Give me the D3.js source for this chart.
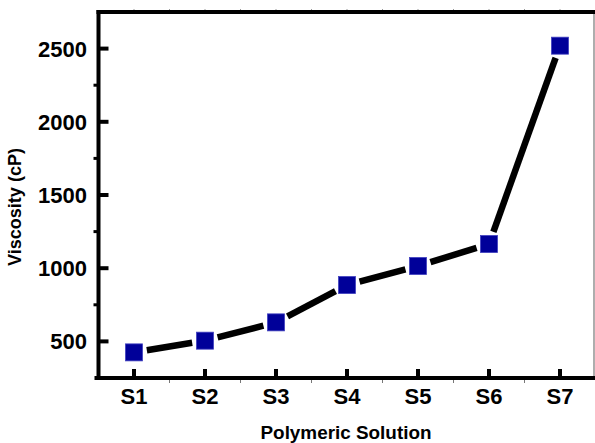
<!DOCTYPE html>
<html>
<head>
<meta charset="utf-8">
<script src="https://cdn.jsdelivr.net/npm/d3@7"></script>
<style>
  body { margin: 0; background: #fff; }
  text { font-family: "Liberation Sans", Arial, sans-serif; font-weight: bold; fill: #000; }
</style>
</head>
<body>
<svg id="chart_svg" width="595" height="443"></svg>
<script>
// data
const solutions = ["S1", "S2", "S3", "S4", "S5", "S6", "S7"];
const viscosity = [425, 505, 630, 885, 1015, 1165, 2520];
const yTicks = [500, 1000, 1500, 2000, 2500];
const yMinorTicks = [750, 1250, 1750, 2250];

const plot_left = 98.5, plot_right = 595.5, plot_top = 12, plot_bottom = 378;

const svg = d3.select('#chart_svg');

const xScale = d3.scaleBand()
    .domain(solutions)
    .range([plot_left, plot_right])
    .padding(0);

const yScale = d3.scaleLinear()
    .domain([250, 2750])
    .range([plot_bottom, plot_top]);

const xc = d => xScale(d) + xScale.bandwidth() / 2;

// faint minor ticks (between categories) on bottom and top
const minorX = solutions.slice(0, -1).map(s => xScale(s) + xScale.bandwidth());
svg.selectAll(".xminor").data(minorX).enter().append("line")
    .attr("x1", d => d).attr("x2", d => d)
    .attr("y1", plot_bottom).attr("y2", plot_bottom + 5)
    .style("stroke", "#777").style("stroke-width", 1);
svg.selectAll(".topminor").data(minorX.concat(solutions.map(xc))).enter().append("line")
    .attr("x1", d => d).attr("x2", d => d)
    .attr("y1", plot_top).attr("y2", plot_top - 3)
    .style("stroke", "#999").style("stroke-width", 1);

// frame (right edge is cut by the picture border, only a thin sliver shows)
svg.append("line").attr("x1", plot_right - 1.5).attr("x2", plot_right - 1.5)
    .attr("y1", plot_top).attr("y2", plot_bottom)
    .style("stroke", "#777").style("stroke-width", 1.2);
svg.append("line").attr("x1", plot_left - 2).attr("x2", plot_right)
    .attr("y1", plot_top).attr("y2", plot_top)
    .style("stroke", "#000").style("stroke-width", 4);
svg.append("line").attr("x1", plot_left - 4).attr("x2", plot_right)
    .attr("y1", plot_bottom).attr("y2", plot_bottom)
    .style("stroke", "#000").style("stroke-width", 4);
svg.append("line").attr("x1", plot_left).attr("x2", plot_left)
    .attr("y1", plot_top - 2).attr("y2", plot_bottom + 2)
    .style("stroke", "#000").style("stroke-width", 4);

// y ticks (inward), minor ticks (outward)
svg.selectAll(".ytick").data(yTicks).enter().append("line")
    .attr("x1", plot_left).attr("x2", plot_left + 10)
    .attr("y1", d => yScale(d)).attr("y2", d => yScale(d))
    .style("stroke", "#000").style("stroke-width", 4);
svg.selectAll(".yminor").data(yMinorTicks).enter().append("line")
    .attr("x1", plot_left).attr("x2", plot_left - 5)
    .attr("y1", d => yScale(d)).attr("y2", d => yScale(d))
    .style("stroke", "#000").style("stroke-width", 3);
svg.selectAll(".ylabel").data(yTicks).enter().append("text")
    .attr("x", 87).attr("y", d => yScale(d))
    .attr("dy", "0.36em")
    .attr("text-anchor", "end")
    .style("font-size", "22px")
    .text(d => d);

// x ticks (inward)
svg.selectAll(".xtick").data(solutions).enter().append("line")
    .attr("x1", d => xc(d)).attr("x2", d => xc(d))
    .attr("y1", plot_bottom).attr("y2", plot_bottom - 9)
    .style("stroke", "#000").style("stroke-width", 4);
svg.selectAll(".xlabel").data(solutions).enter().append("text")
    .attr("x", d => xc(d)).attr("y", 404)
    .attr("text-anchor", "middle")
    .style("font-size", "22px")
    .text(d => d);

// axis titles
svg.append("text")
    .attr("x", 346).attr("y", 439)
    .attr("text-anchor", "middle")
    .attr("textLength", 171).attr("lengthAdjust", "spacingAndGlyphs")
    .style("font-size", "18px")
    .text("Polymeric Solution");
svg.append("text")
    .attr("transform", "translate(21,207) rotate(-90)")
    .attr("text-anchor", "middle")
    .attr("textLength", 118).attr("lengthAdjust", "spacingAndGlyphs")
    .style("font-size", "18px")
    .text("Viscosity (cP)");

// line segments with gaps around markers
const pts = solutions.map((s, i) => ({ x: xc(s), y: yScale(viscosity[i]) }));
const gap = 13;
const segs = d3.pairs(pts).map(([a, b]) => {
    const dx = b.x - a.x, dy = b.y - a.y, len = Math.hypot(dx, dy);
    const ux = dx / len, uy = dy / len;
    return { x1: a.x + ux * gap, y1: a.y + uy * gap, x2: b.x - ux * gap, y2: b.y - uy * gap };
});
svg.selectAll(".seg").data(segs).enter().append("line")
    .attr("x1", d => d.x1).attr("y1", d => d.y1)
    .attr("x2", d => d.x2).attr("y2", d => d.y2)
    .style("stroke", "#000").style("stroke-width", 6.5);

const mk = 17;
svg.selectAll(".marker").data(solutions).enter().append("rect")
    .attr("x", d => xc(d) - mk / 2)
    .attr("y", (d, i) => yScale(viscosity[i]) - mk / 2)
    .attr("width", mk).attr("height", mk)
    .style("fill", "#000099")
    .style("stroke", "#4040c0").style("stroke-width", 0.8);
</script>
</body>
</html>
